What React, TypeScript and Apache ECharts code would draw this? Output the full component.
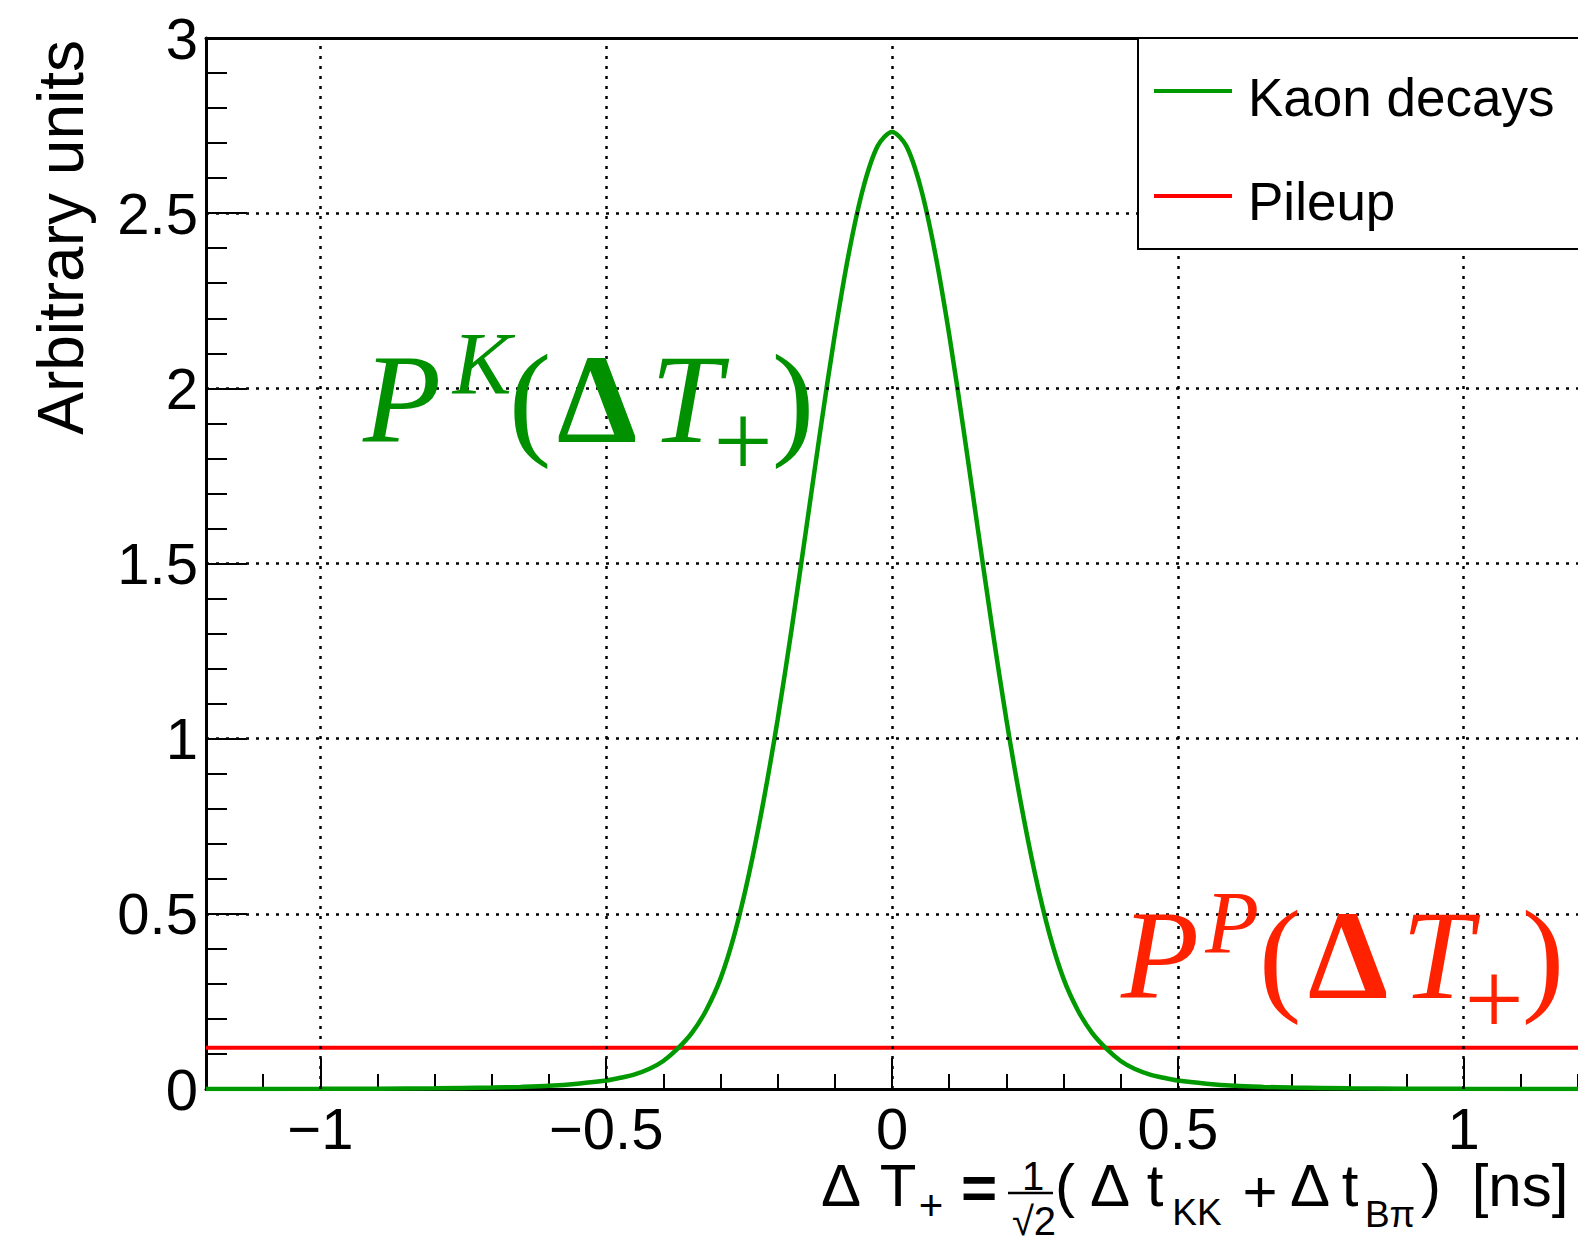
import React, { useEffect, useRef } from "react";
import * as echarts from "echarts";

// ---- data ----
const kaonX = [
  -1.2, -1.0, -0.9, -0.8, -0.7, -0.65, -0.6, -0.55, -0.5, -0.475, -0.45, -0.425, -0.4, -0.375, -0.35, -0.325,
  -0.3, -0.275, -0.25, -0.225, -0.2, -0.175, -0.15, -0.125, -0.1, -0.075, -0.05, -0.025, 0,
  0.025, 0.05, 0.075, 0.1, 0.125, 0.15, 0.175, 0.2, 0.225, 0.25, 0.275, 0.3, 0.325, 0.35,
  0.375, 0.4, 0.425, 0.45, 0.475, 0.5, 0.55, 0.6, 0.65, 0.7, 0.8, 0.9, 1.0, 1.2,
];
const kaonY = [
  0.0002, 0.0005, 0.001, 0.002, 0.004, 0.006, 0.009, 0.015, 0.024, 0.032, 0.042, 0.057, 0.08, 0.115, 0.16, 0.225,
  0.315, 0.445, 0.615, 0.82, 1.055, 1.319, 1.6, 1.884, 2.154, 2.39, 2.574, 2.692, 2.732,
  2.692, 2.574, 2.39, 2.154, 1.884, 1.6, 1.319, 1.055, 0.82, 0.615, 0.445, 0.315, 0.225, 0.16,
  0.115, 0.08, 0.057, 0.042, 0.032, 0.024, 0.015, 0.009, 0.006, 0.004, 0.002, 0.001, 0.0005, 0.0002,
];
const pileupX = [-1.2, 1.2];
const pileupY = [0.118, 0.118];
const xMajorTicks = [-1, -0.5, 0, 0.5, 1];
const xGridValues = [-1, -0.5, 0, 0.5, 1];
const yGridValues = [0.5, 1, 1.5, 2, 2.5];
const legendNames = ["Kaon decays", "Pileup"];
const yTitle = "Arbitrary units";

const GREEN = "#009900";
const GREEN_TEXT = "#009000";
const RED = "#ff0000";
const RED_TEXT = "#ff2200";
const SANS = "Liberation Sans";
const SERIF = "Liberation Serif";

function txt(
  text: string,
  x: number,
  baseline: number,
  size: number,
  o: { family?: string; italic?: boolean; bold?: boolean; color?: string; align?: string } = {}
) {
  const family = o.family || SANS;
  const k = family === SERIF ? 0.3375 : 0.3465;
  const align = o.align || "center";
  return {
    type: "text",
    x,
    y: baseline - k * size,
    z: 100,
    silent: true,
    style: {
      text,
      fill: o.color || "#000",
      fontSize: size,
      fontFamily: family,
      fontStyle: o.italic ? "italic" : "normal",
      fontWeight: o.bold ? "bold" : "normal",
      align,
      textAlign: align,
      verticalAlign: "middle",
      textVerticalAlign: "middle",
    },
  };
}

export default function App() {
  const ref = useRef<HTMLDivElement>(null);
  useEffect(() => {
    document.body.style.margin = "0";
    if (!ref.current) return;
    const chart = echarts.init(ref.current, undefined, { renderer: "svg" });

    const tickStyle = { color: "#000", width: 2 };
    const axisLineStyle = { color: "#000", width: 3 };
    const labelStyle = { color: "#000", fontSize: 58, fontFamily: SANS };

    const gridLineStyle = { color: "#000", width: 2.5, type: [3, 7] as any };

    const graphics: any[] = [];
    // Legend
    graphics.push({
      type: "rect",
      z: 90,
      shape: { x: 1138, y: 38, width: 520, height: 211 },
      style: { fill: "#fff", stroke: "#000", lineWidth: 2 },
    });
    graphics.push({
      type: "line",
      z: 100,
      shape: { x1: 1154, y1: 91, x2: 1232, y2: 91 },
      style: { stroke: GREEN, lineWidth: 4 },
    });
    graphics.push({
      type: "line",
      z: 100,
      shape: { x1: 1154, y1: 196, x2: 1232, y2: 196 },
      style: { stroke: RED, lineWidth: 4 },
    });
    graphics.push(txt(legendNames[0], 1248, 116, 53, { align: "left" }));
    graphics.push(txt(legendNames[1], 1248, 220, 53, { align: "left" }));

    // P^K(ΔT+)
    const g = { family: SERIF, color: GREEN_TEXT };
    graphics.push(txt("P", 402, 442, 128, { ...g, italic: true }));
    graphics.push(txt("K", 482, 393, 88, { ...g, italic: true }));
    graphics.push(txt("(", 530, 442, 128, g));
    graphics.push(txt("Δ", 597, 442, 128, { ...g, bold: true }));
    graphics.push(txt("T", 686, 442, 128, { ...g, italic: true }));
    graphics.push(txt("+", 743, 477, 105, g));
    graphics.push(txt(")", 793, 442, 128, g));

    // P^P(ΔT+)
    const r = { family: SERIF, color: RED_TEXT };
    graphics.push(txt("P", 1160, 998, 128, { ...r, italic: true }));
    graphics.push(txt("P", 1232, 952, 88, { ...r, italic: true }));
    graphics.push(txt("(", 1280, 998, 128, r));
    graphics.push(txt("Δ", 1348, 998, 128, { ...r, bold: true }));
    graphics.push(txt("T", 1437, 998, 128, { ...r, italic: true }));
    graphics.push(txt("+", 1494, 1035, 105, r));
    graphics.push(txt(")", 1543, 998, 128, r));

    // X axis title
    graphics.push(txt("Δ", 841, 1206, 60));
    graphics.push(txt("T", 898, 1206, 60));
    graphics.push(txt("+", 931, 1220, 42));
    graphics.push(txt("=", 979, 1209, 62, { bold: true }));
    graphics.push(txt("1", 1033, 1190, 40));
    graphics.push({
      type: "line",
      z: 100,
      shape: { x1: 1008, y1: 1193, x2: 1053, y2: 1193 },
      style: { stroke: "#000", lineWidth: 2.5 },
    });
    graphics.push(txt("√2", 1034, 1235, 40));
    graphics.push(txt("(", 1065, 1206, 60));
    graphics.push(txt("Δ", 1110, 1206, 60));
    graphics.push(txt("t", 1155, 1206, 60));
    graphics.push(txt("KK", 1197, 1225, 37));
    graphics.push(txt("+", 1260, 1212, 60));
    graphics.push(txt("Δ", 1310, 1206, 60));
    graphics.push(txt("t", 1350, 1206, 60));
    graphics.push(txt("Bπ", 1390, 1227, 37));
    graphics.push(txt(")", 1431, 1206, 60));
    graphics.push(txt("[ns]", 1520, 1206, 60));

    // Y axis title
    const yt: any = txt(yTitle, 61, 83, 64, { align: "right" });
    yt.x = 61;
    yt.y = 40;
    yt.rotation = Math.PI / 2;
    graphics.push(yt);

    chart.setOption({
      animation: false,
      backgroundColor: "#fff",
      grid: { left: 206, right: 0, top: 38, bottom: 154 },
      xAxis: [
        {
          type: "value",
          min: -1.2,
          max: 1.2,
          interval: 0.1,
          position: "bottom",
          axisLine: { show: true, onZero: false, lineStyle: axisLineStyle },
          axisTick: { show: true, inside: true, length: 15, lineStyle: tickStyle },
          axisLabel: { show: false },
          splitLine: { show: false },
        },
        {
          type: "value",
          min: -1.2,
          max: 1.2,
          position: "bottom",
          axisLine: { show: false, onZero: false },
          axisTick: {
            show: true,
            inside: true,
            length: 31,
            customValues: xMajorTicks,
            lineStyle: tickStyle,
          },
          axisLabel: {
            ...labelStyle,
            margin: 10,
            customValues: xMajorTicks,
            formatter: (v: number) => String(v).replace("-", "\u2212"),
          },
          splitLine: { show: false },
        },
        {
          type: "value",
          min: -1.2,
          max: 1.2,
          position: "top",
          axisLine: { show: true, onZero: false, lineStyle: axisLineStyle },
          axisTick: { show: false },
          axisLabel: { show: false },
          splitLine: { show: false },
        },
      ],
      yAxis: [
        {
          type: "value",
          min: 0,
          max: 3,
          interval: 0.5,
          position: "left",
          axisLine: { show: true, onZero: false, lineStyle: axisLineStyle },
          axisTick: { show: true, inside: true, length: 41, lineStyle: tickStyle },
          axisLabel: { ...labelStyle, margin: 8 },
          splitLine: { show: false },
        },
        {
          type: "value",
          min: 0,
          max: 3,
          interval: 0.1,
          position: "left",
          axisLine: { show: false, onZero: false },
          axisTick: { show: true, inside: true, length: 21, lineStyle: tickStyle },
          axisLabel: { show: false },
          splitLine: { show: false },
        },
      ],
      series: [
        {
          type: "line",
          name: legendNames[1],
          xAxisIndex: 0,
          yAxisIndex: 0,
          data: pileupX.map((x, i) => [x, pileupY[i]]),
          showSymbol: false,
          symbol: "none",
          lineStyle: { color: RED, width: 4 },
          z: 2,
          markLine: {
            silent: true,
            symbol: ["none", "none"],
            label: { show: false },
            lineStyle: gridLineStyle,
            data: [
              ...xGridValues.map((v) => ({ xAxis: v })),
              ...yGridValues.map((v) => ({ yAxis: v })),
            ],
          },
        },
        {
          type: "line",
          name: legendNames[0],
          xAxisIndex: 0,
          yAxisIndex: 0,
          data: kaonX.map((x, i) => [x, kaonY[i]]),
          showSymbol: false,
          symbol: "none",
          smooth: 0.3,
          lineStyle: { color: GREEN, width: 4.5 },
          z: 3,
        },
      ],
      graphic: { elements: graphics },
    });
    return () => chart.dispose();
  }, []);
  return <div ref={ref} style={{ width: 1578, height: 1243 }} />;
}
